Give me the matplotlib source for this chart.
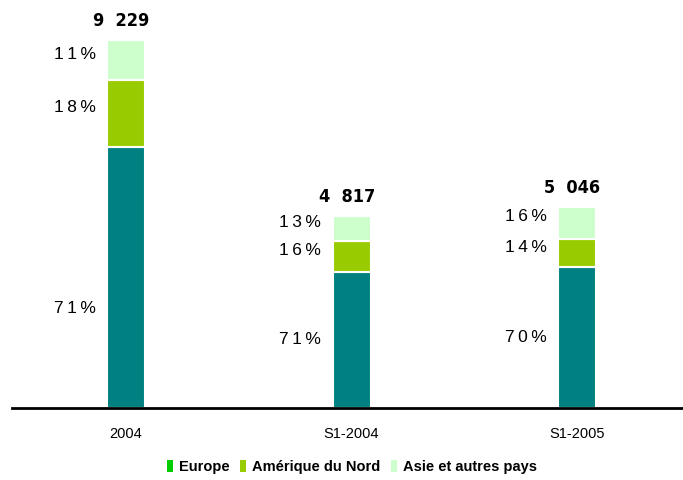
import matplotlib
matplotlib.use("Agg")
import matplotlib.pyplot as plt
from matplotlib.patches import Patch

categories = ["2004", "S1-2004", "S1-2005"]
totals = [9229, 4817, 5046]
total_labels = ["9 229", "4 817", "5 046"]
pct_europe = [71, 71, 70]
pct_namerica = [18, 16, 14]
pct_asia = [11, 13, 16]
series_names = ["Europe", "Amérique du Nord", "Asie et autres pays"]

colors = ["#008080", "#99CC00", "#CCFFCC"]
legend_colors = ["#00CC00", "#99CC00", "#CCFFCC"]

plt.rcParams['font.family'] = ['Liberation Sans', 'DejaVu Sans']

fig = plt.figure(figsize=(6.83, 4.8), dpi=100)
ax = fig.add_axes([12 / 683, 72 / 480, 671 / 683, 408 / 480])

x = list(range(len(categories)))
width = 0.1685

def spaced(s):
    return "\u2009".join(list(s))

bottoms = [0.0] * len(x)
for si, pcts in enumerate([pct_europe, pct_namerica, pct_asia]):
    vals = [t * p / sum_p for t, p, sum_p in zip(totals, pcts,
            [a + b + c for a, b, c in zip(pct_europe, pct_namerica, pct_asia)])]
    ax.bar(x, vals, width, bottom=bottoms, color=colors[si],
           edgecolor="white", linewidth=1.5, zorder=2)
    for i in x:
        if si == 0:
            yc = min(vals[i] / 2, 2500)
        else:
            yc = bottoms[i] + vals[i] / 2 + 150
        ax.text(i - width / 2 - 0.05, yc, spaced(f"{pcts[i]}%"), ha="right",
                va="center", fontsize=12.5, color="black")
    bottoms = [b + v for b, v in zip(bottoms, vals)]

for i in x:
    ax.text(i - 0.02, totals[i] + 250, total_labels[i].replace(" ", "  "), ha="center",
            va="bottom", fontsize=13, fontweight="bold",
            family="DejaVu Sans", fontstretch="condensed")

ax.set_xlim(-0.5055, 2.470)
ax.set_ylim(0, 10232)
ax.set_xticks(x)
ax.set_xticklabels(categories, fontsize=10.5)
ax.tick_params(axis="x", length=0, pad=14)
ax.set_yticks([])
for s in ["top", "right", "left"]:
    ax.spines[s].set_visible(False)
ax.spines["bottom"].set_linewidth(2)
ax.spines["bottom"].set_zorder(3)

handles = [Patch(facecolor=c, edgecolor="none") for c in legend_colors]
fig.legend(handles, series_names, loc="center", bbox_to_anchor=(352 / 683, 1 - 467 / 480),
           ncol=3, frameon=False, handlelength=0.4, handleheight=0.8, handletextpad=0.45,
           columnspacing=0.7, prop={"weight": "bold", "size": 10.5})

fig.savefig("out.png", dpi=100)
